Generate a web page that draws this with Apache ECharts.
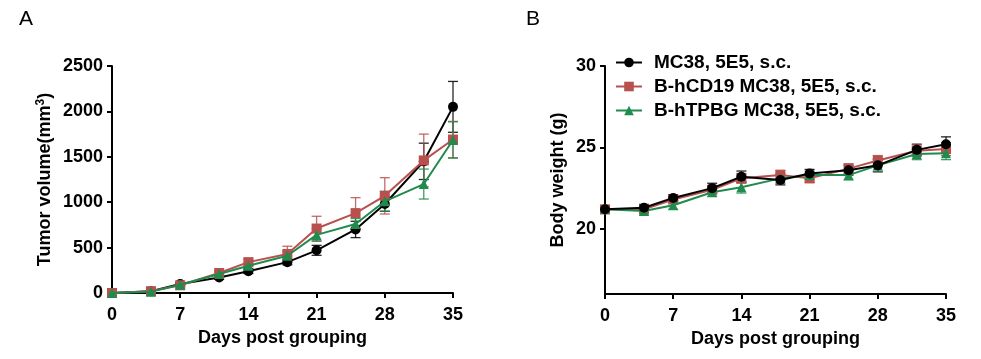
<!DOCTYPE html>
<html><head><meta charset="utf-8">
<script src="https://cdn.jsdelivr.net/npm/echarts@6/dist/echarts.min.js"></script>
<style>html,body{margin:0;padding:0;background:#fff}#c{width:981px;height:359px}</style>
</head><body><div id="c"></div>
<script>
const days = [0, 4, 7, 11, 14, 18, 21, 25, 28, 32, 35];
const seriesNames = ['MC38, 5E5, s.c.', 'B-hCD19 MC38, 5E5, s.c.', 'B-hTPBG MC38, 5E5, s.c.'];
const colors = ['#000000', '#b8504e', '#1f8b4c'];
const xTicks = [0, 7, 14, 21, 28, 35];
const volTicks = [0, 500, 1000, 1500, 2000, 2500];
const bwTicks = [20, 25, 30];

const volMC38 = [0, 20, 100, 170, 240, 340, 470, 700, 980, 1450, 2050];
const volMC38Err = [0, 10, 15, 20, 25, 30, 55, 90, 80, 200, 280];
const volCD19 = [0, 20, 85, 220, 340, 430, 710, 880, 1070, 1460, 1690];
const volCD19Err = [0, 10, 15, 30, 35, 85, 135, 170, 200, 290, 200];
const volTPBG = [0, 15, 90, 210, 300, 410, 640, 760, 1010, 1200, 1685];
const volTPBGErr = [0, 10, 15, 25, 30, 50, 70, 60, 110, 165, 200];

const bwMC38 = [21.2, 21.3, 21.9, 22.5, 23.2, 23.0, 23.4, 23.6, 23.9, 24.85, 25.2];
const bwMC38Err = [0.1, 0.2, 0.2, 0.3, 0.35, 0.3, 0.25, 0.3, 0.4, 0.35, 0.45];
const bwCD19 = [21.2, 21.2, 21.8, 22.4, 23.1, 23.3, 23.1, 23.7, 24.2, 24.8, 24.9];
const bwCD19Err = [0.1, 0.2, 0.2, 0.25, 0.3, 0.3, 0.25, 0.3, 0.3, 0.35, 0.4];
const bwTPBG = [21.2, 21.1, 21.45, 22.25, 22.55, 23.1, 23.3, 23.3, 23.9, 24.6, 24.65];
const bwTPBGErr = [0.1, 0.25, 0.25, 0.25, 0.35, 0.3, 0.25, 0.3, 0.35, 0.35, 0.4];

const FONT = '"Liberation Sans", Arial, sans-serif';

function pts(vals){ return days.map((d,i)=>[d, vals[i]]); }
function errData(vals, errs){ return days.map((d,i)=>[d, vals[i]-errs[i], vals[i]+errs[i]]); }

function errSeries(name, vals, errs, color, gi, z){
  return {
    name: name, type: 'custom', xAxisIndex: gi, yAxisIndex: gi, z: z,
    data: errData(vals, errs), silent: true,
    renderItem: function(params, api){
      const x = api.value(0);
      const lo = api.coord([x, api.value(1)]);
      const hi = api.coord([x, api.value(2)]);
      const w = 5;
      const st = {stroke: color, lineWidth: 1.3, opacity: 0.85};
      return {type:'group', children:[
        {type:'line', shape:{x1:lo[0], y1:lo[1], x2:hi[0], y2:hi[1]}, style: st},
        {type:'line', shape:{x1:hi[0]-w, y1:hi[1], x2:hi[0]+w, y2:hi[1]}, style: st},
        {type:'line', shape:{x1:lo[0]-w, y1:lo[1], x2:lo[0]+w, y2:lo[1]}, style: st}
      ]};
    }
  };
}
const symbols = ['circle', 'rect', 'triangle'];
const symSizes = [10, 10, 10];
function lineSeries(name, vals, idx, gi, z){
  return {
    name: name, type: 'line', xAxisIndex: gi, yAxisIndex: gi, z: z,
    data: pts(vals), symbol: symbols[idx], symbolSize: symSizes[idx],
    lineStyle: {color: colors[idx], width: 2},
    itemStyle: {color: colors[idx]}, animation: false
  };
}

const axisLine = {show: true, lineStyle: {color: '#000', width: 2}};
const axisTick = {show: true, length: 5, lineStyle: {color: '#000', width: 2}};
const labelStyle = {color: '#000', fontFamily: FONT, fontWeight: 'bold', fontSize: 18, formatter: v => String(v)};
const nameStyle = {color: '#000', fontFamily: FONT, fontWeight: 'bold', fontSize: 18};

function xAxis(gi){
  return {type: 'value', gridIndex: gi, min: 0, max: 35, interval: 7,
    axisLine: axisLine, axisTick: axisTick, splitLine: {show: false},
    axisLabel: Object.assign({margin: 13, customValues: xTicks}, labelStyle),
    name: 'Days post grouping', nameLocation: 'middle', nameGap: 35, nameTextStyle: nameStyle};
}

const option = {
  animation: false,
  backgroundColor: '#fff',
  title: [
    {text: 'A', left: 14, top: 4, textStyle: {fontFamily: FONT, fontWeight: 'normal', fontSize: 21, color: '#000'}},
    {text: 'B', left: 521, top: 4, textStyle: {fontFamily: FONT, fontWeight: 'normal', fontSize: 21, color: '#000'}}
  ],
  legend: {
    data: seriesNames, orient: 'vertical', left: 610, top: 48, itemGap: 5,
    itemWidth: 26, itemHeight: 12,
    textStyle: {fontFamily: FONT, fontWeight: 'bold', fontSize: 19, color: '#000', padding: [0,0,0,7]},
    selectedMode: false
  },
  grid: [
    {left: 112, top: 66, width: 341, height: 227},
    {left: 605, top: 66, width: 341, height: 228}
  ],
  xAxis: [xAxis(0), xAxis(1)],
  yAxis: [
    {type: 'value', gridIndex: 0, min: 0, max: 2500, interval: 500,
     axisLine: axisLine, axisTick: axisTick, splitLine: {show: false},
     axisLabel: Object.assign({margin: 9, customValues: volTicks}, labelStyle),
     name: 'Tumor volume(mm{sup|3})', nameLocation: 'middle', nameGap: 56,
     nameTextStyle: Object.assign({rich: {sup: {fontFamily: FONT, fontWeight: 'bold', fontSize: 12, verticalAlign: 'top', color: '#000', padding: [0,0,9,0]}}}, nameStyle)},
    {type: 'value', gridIndex: 1, min: 16, max: 30,
     axisLine: axisLine,
     axisTick: Object.assign({customValues: bwTicks}, axisTick), splitLine: {show: false},
     axisLabel: Object.assign({margin: 9, customValues: bwTicks}, labelStyle),
     name: 'Body weight (g)', nameLocation: 'middle', nameGap: 38, nameTextStyle: nameStyle}
  ],
  series: [
    errSeries('e1', volMC38, volMC38Err, colors[0], 0, 2),
    errSeries('e2', volCD19, volCD19Err, colors[1], 0, 2),
    errSeries('e3', volTPBG, volTPBGErr, colors[2], 0, 2),
    lineSeries(seriesNames[0], volMC38, 0, 0, 3),
    lineSeries(seriesNames[1], volCD19, 1, 0, 4),
    lineSeries(seriesNames[2], volTPBG, 2, 0, 5),
    errSeries('e4', bwMC38, bwMC38Err, colors[0], 1, 2),
    errSeries('e5', bwCD19, bwCD19Err, colors[1], 1, 2),
    errSeries('e6', bwTPBG, bwTPBGErr, colors[2], 1, 2),
    lineSeries(seriesNames[0], bwMC38, 0, 1, 6),
    lineSeries(seriesNames[1], bwCD19, 1, 1, 4),
    lineSeries(seriesNames[2], bwTPBG, 2, 1, 5)
  ]
};
const chart = echarts.init(document.getElementById('c'), null, {renderer: 'canvas'});
chart.setOption(option);
</script></body></html>
